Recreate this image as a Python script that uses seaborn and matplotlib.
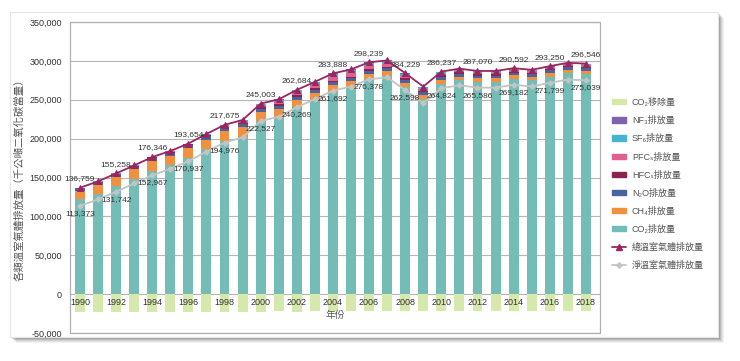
import numpy as np
import pandas as pd
import matplotlib.pyplot as plt
import seaborn as sns
from matplotlib.patches import Rectangle, Patch
from matplotlib.lines import Line2D

# ---------------- data (千公噸二氧化碳當量) ----------------
years = list(range(1990, 2019))

total_emis = [136759, 145000, 155258, 165500, 176346, 184000, 193654, 206000, 217675, 224000,
              245003, 250500, 262684, 273000, 283888, 289000, 298239, 300500, 284229, 267000,
              286237, 290000, 287070, 287000, 290592, 288500, 293250, 297500, 296546]
net_emis = [113373, 121800, 131742, 142300, 152967, 161000, 170937, 183200, 194976, 201500,
            222527, 228200, 240269, 251000, 261692, 267000, 276378, 278700, 262598, 245400,
            264824, 268600, 265586, 265600, 269182, 267100, 271799, 276000, 275039]

co2 = [121759, 129400, 138958, 148450, 158546, 165600, 174854, 186150, 196675, 202400,
       223303, 228400, 240184, 249900, 260588, 266500, 276839, 280700, 266029, 250700,
       270837, 275000, 272770, 272900, 276892, 274900, 279850, 284200, 283246]
ch4 = [11000, 11300, 11700, 12000, 12300, 12500, 12600, 12700, 12600, 12000,
       10500, 9800, 9000, 8400, 7800, 7200, 6500, 6000, 5600, 5300,
       5000, 4900, 4700, 4600, 4500, 4500, 4400, 4300, 4300]
n2o = [3300, 3400, 3500, 3600, 3700, 3800, 3900, 4000, 4100, 4100,
       4200, 4100, 4000, 3900, 3900, 3800, 3800, 3700, 3700, 3600,
       3600, 3600, 3500, 3500, 3500, 3500, 3500, 3500, 3500]
hfc = [600, 700, 800, 1000, 1200, 1400, 1500, 1700, 1900, 2000,
       2200, 2300, 2300, 2400, 2400, 2400, 2400, 2300, 2100, 1900,
       1800, 1700, 1600, 1500, 1400, 1400, 1300, 1300, 1300]
pfc = [0, 50, 100, 200, 300, 350, 400, 700, 1200, 1800,
       2500, 3000, 3600, 4100, 4500, 4400, 4200, 3800, 3300, 2700,
       2500, 2400, 2300, 2300, 2200, 2200, 2200, 2200, 2200]
sf6 = [100, 150, 200, 250, 300, 350, 400, 700, 1100, 1500,
       2000, 2500, 3000, 3500, 3800, 3700, 3500, 3000, 2500, 2000,
       1800, 1700, 1600, 1600, 1600, 1500, 1500, 1500, 1500]
nf3 = [0, 0, 0, 0, 0, 0, 0, 50, 100, 200,
       300, 400, 600, 800, 900, 1000, 1000, 1000, 1000, 800,
       700, 700, 600, 600, 500, 500, 500, 500, 500]
co2_removal = [-23386, -23200, -23516, -23200, -23379, -23000, -22717, -22800, -22699, -22500,
               -22476, -22300, -22415, -22000, -22196, -22000, -21861, -21800, -21631, -21600,
               -21413, -21400, -21484, -21400, -21410, -21400, -21451, -21500, -21507]

label_years = list(range(1990, 2019, 2))

stack_names = ['CO₂排放量', 'CH₄排放量', 'N₂O排放量', 'HFCₛ排放量', 'PFCₛ排放量', 'SF₆排放量', 'NF₃排放量']
stack_vals = [co2, ch4, n2o, hfc, pfc, sf6, nf3]
stack_colors = ['#73bdb6', '#f0913f', '#4a62a0', '#8b2350', '#e0608f', '#45b5cf', '#7f64ad']
removal_name = 'CO₂移除量'
removal_color = '#d7e8ac'
total_name = '總溫室氣體排放量'
net_name = '淨溫室氣體排放量'
total_color = '#9c2560'
net_color = '#c4c4c4'

df = pd.DataFrame({'year': years, 'total': total_emis, 'net': net_emis})

# ---------------- style ----------------
sns.set_theme(style='white')
plt.rcParams['font.family'] = ['Liberation Sans Narrow', 'Liberation Sans', 'Noto Sans CJK TC', 'DejaVu Sans']
txt_color = '#333333'

fig = plt.figure(figsize=(7.4, 3.61), dpi=100)
fig.patch.set_facecolor('white')

# card with soft shadow
W, H = 740, 361
for i, a in enumerate([0.05, 0.06, 0.08, 0.10, 0.12]):
    off = 6 - i
    fig.add_artist(Rectangle(((10 + off) / W, (24 - off) / H), 708 / W, 325 / H,
                             transform=fig.transFigure, facecolor='black', edgecolor='none',
                             alpha=a, zorder=-20))
fig.add_artist(Rectangle((10 / W, 24 / H), 708 / W, 325 / H, transform=fig.transFigure,
                         facecolor='white', edgecolor='#e6e6e6', lw=0.8, zorder=-10))

ax = fig.add_axes([70 / W, 28 / H, 530 / W, 311 / H])
ax.set_facecolor('none')

# stacked bars
width = 0.55
bottom = np.zeros(len(years))
for name, vals, col in zip(stack_names, stack_vals, stack_colors):
    ax.bar(years, vals, width, bottom=bottom, color=col, label=name, zorder=2, linewidth=0)
    bottom += np.array(vals)
ax.bar(years, co2_removal, width, color=removal_color, label=removal_name, zorder=2, linewidth=0)

# lines
sns.lineplot(data=df, x='year', y='total', ax=ax, color=total_color, lw=1.3, marker='^',
             markersize=5, markeredgecolor=total_color, zorder=4)
sns.lineplot(data=df, x='year', y='net', ax=ax, color=net_color, lw=1.3, marker='D',
             markersize=2.8, markeredgecolor=net_color, zorder=3)

# value labels
for yr, t, n in zip(years, total_emis, net_emis):
    if yr in label_years:
        ax.annotate(f'{t:,}', (yr, t), xytext=(0, 4), textcoords='offset points',
                    ha='center', va='bottom', fontsize=6, color=txt_color, zorder=6)
        ax.annotate(f'{n:,}', (yr, n), xytext=(0, -3), textcoords='offset points',
                    ha='center', va='top', fontsize=6, color=txt_color, zorder=6)

# axes
ax.set_xlim(1989.45, 2018.78)
ax.set_ylim(-50000, 350000)
ax.set_yticks(np.arange(-50000, 350001, 50000))
ax.yaxis.set_major_formatter(plt.FuncFormatter(lambda v, p: f'{int(v):,}'))
ax.set_xticks(label_years)
ax.set_xticklabels([str(y) for y in label_years])
ax.tick_params(axis='both', length=0, labelsize=6.5, colors=txt_color)
ax.tick_params(axis='x', pad=3)
ax.tick_params(axis='y', pad=6)

ax.yaxis.grid(True, color='#b5b5b5', lw=0.8)
ax.xaxis.grid(False)
ax.yaxis.set_zorder(0.5)
ax.xaxis.set_zorder(5)

ax.spines['bottom'].set_position(('data', 0))
ax.spines['bottom'].set_visible(False)
for s in ['left', 'right', 'top']:
    ax.spines[s].set_visible(False)
ax.add_patch(Rectangle((0, 0), 1, 1, transform=ax.transAxes, fill=False,
                       edgecolor='#b0b0b0', lw=0.9, clip_on=False, zorder=1))

ax.set_xlabel('年份', fontsize=7, color='#555555', labelpad=2)
ax.set_ylabel('各類溫室氣體排放量（千公噸二氧化碳當量）', fontsize=7.5, color='#555555')
ax.yaxis.set_label_coords(-0.085, 0.5)

# legend
handles = [Patch(color=removal_color)] + \
          [Patch(color=c) for c in stack_colors[::-1]] + \
          [Line2D([], [], color=total_color, lw=1.3, marker='^', markersize=5),
           Line2D([], [], color=net_color, lw=1.3, marker='D', markersize=2.8)]
labels = [removal_name] + stack_names[::-1] + [total_name, net_name]
ax.legend(handles, labels, loc='upper left', bbox_to_anchor=(612 / W, 1 - 98 / H),
          bbox_transform=fig.transFigure, frameon=False, fontsize=6.5,
          handlelength=1.6, handleheight=0.5, labelspacing=1.0, handletextpad=0.6,
          borderpad=0, borderaxespad=0, labelcolor='#555555')

fig.savefig('out.png', dpi=100)
